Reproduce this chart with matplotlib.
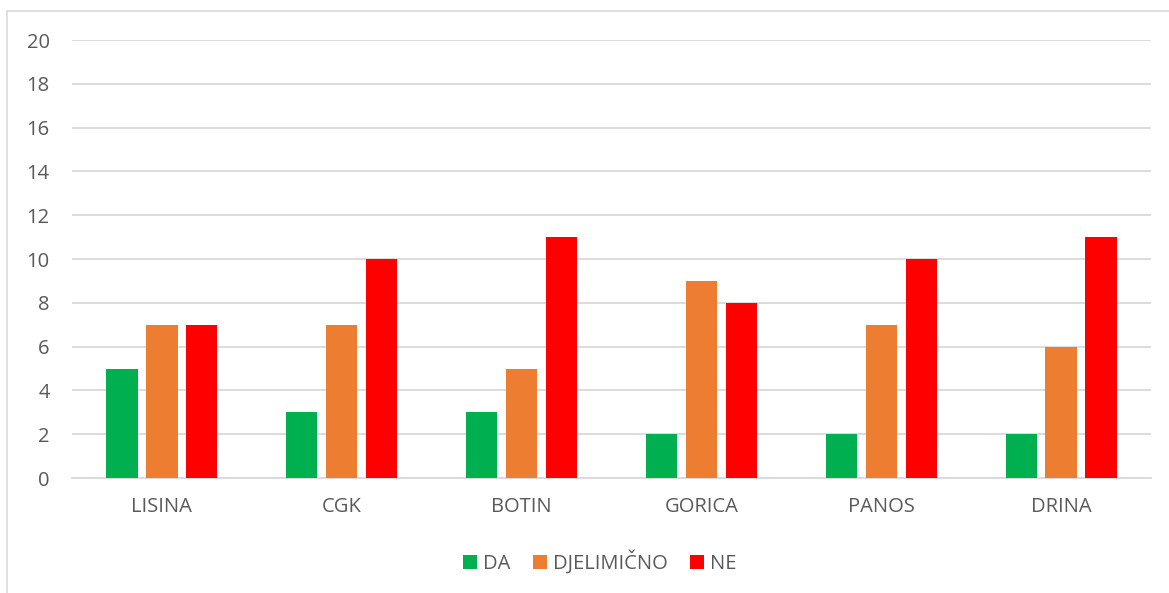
import matplotlib
matplotlib.use("Agg")
import matplotlib.pyplot as plt
import numpy as np
from matplotlib.patches import Rectangle

categories = ["LISINA", "CGK", "BOTIN", "GORICA", "PANOS", "DRINA"]
series_names = ["DA", "DJELIMIČNO", "NE"]
da = [5, 3, 3, 2, 2, 2]
djelimicno = [7, 7, 5, 9, 7, 6]
ne = [7, 10, 11, 8, 10, 11]
colors = ["#00B050", "#ED7D31", "#FF0000"]

plt.rcParams['font.family'] = ['Open Sans', 'DejaVu Sans']

fig = plt.figure(figsize=(11.69, 5.93), dpi=100)
ax = fig.add_axes([0.0616, 0.1939, 0.9230, 0.7386])

x = np.arange(len(categories))
width = 0.174
step = 0.222
for i, (vals, name, c) in enumerate(zip([da, djelimicno, ne], series_names, colors)):
    ax.bar(x + (i - 1) * step, vals, width, color=c, label=name, zorder=3)

ax.set_xlim(-0.5, len(categories) - 0.5)
ax.set_ylim(0, 20)
ax.set_yticks(range(0, 21, 2))
ax.set_xticks(x)
ax.set_xticklabels(categories)
ax.grid(axis="y", color="#D9D9D9", linewidth=1.3, zorder=0)
for s in ["top", "right", "left"]:
    ax.spines[s].set_visible(False)
ax.spines["bottom"].set_color("#D9D9D9")
ax.spines["bottom"].set_linewidth(1.3)
ax.tick_params(axis="both", length=0, labelsize=14.5, labelcolor="#595959")
ax.tick_params(axis="y", pad=16)
ax.tick_params(axis="x", pad=14)

fig.legend(loc="center", bbox_to_anchor=(0.513, 0.052), ncol=3, frameon=False,
           fontsize=14.5, labelcolor="#595959", handlelength=0.7, handleheight=0.7,
           handletextpad=0.3, columnspacing=1.1)

# chart area border
fig.patches.append(Rectangle((7 / 1169, -0.1), 1.2, 1 - 11 / 593 + 0.1,
                             transform=fig.transFigure, fill=False,
                             edgecolor="#D9D9D9", linewidth=1.2))

fig.savefig("out.png", dpi=100)
